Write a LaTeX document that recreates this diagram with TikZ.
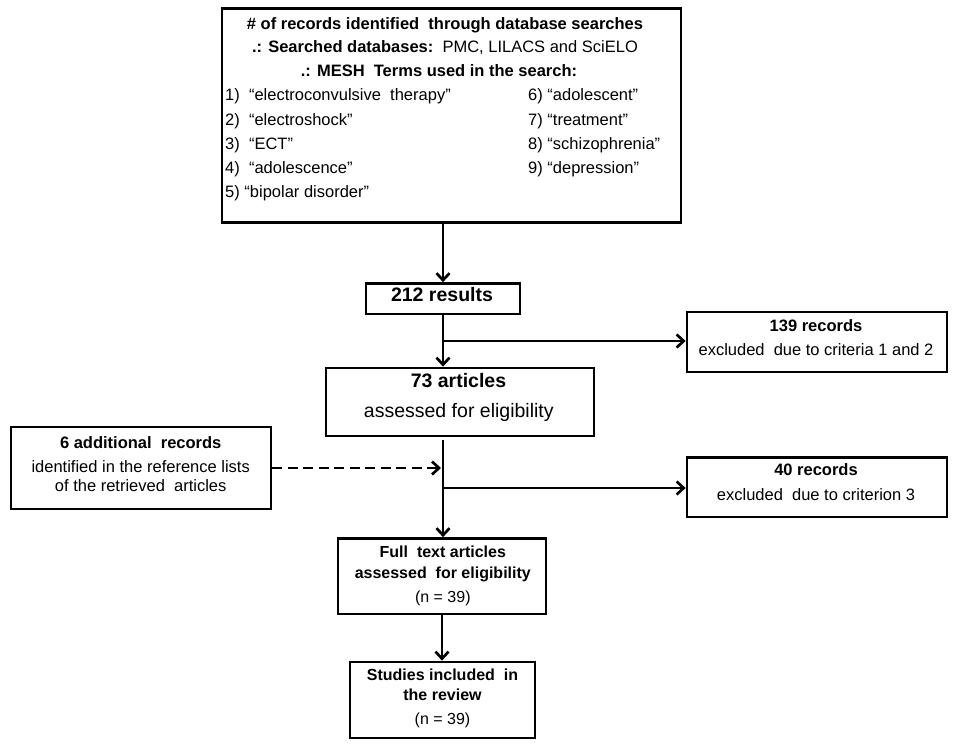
\documentclass[tikz,border=0pt]{standalone}
\usepackage{fontspec}
\setmainfont{Liberation Sans}
\usetikzlibrary{arrows.meta}
\begin{document}
\begin{tikzpicture}[x=1pt,y=-1pt,
  box/.style={draw,line width=2.7pt,inner sep=0pt},
  txt/.style={inner sep=0pt,anchor=mid,font=\fontsize{16.5}{20}\selectfont},
  btxt/.style={txt,font=\fontsize{16.5}{20}\selectfont\bfseries},
  ltxt/.style={txt,anchor=mid west},
  big/.style={txt,font=\fontsize{19.5}{23}\selectfont},
  bbig/.style={txt,font=\fontsize{19.5}{23}\selectfont\bfseries},
  mtxt/.style={txt,font=\fontsize{16}{20}\selectfont},
  bmtxt/.style={txt,font=\fontsize{16}{20}\selectfont\bfseries},
  flow/.style={line width=2.7pt,-{Straight Barb[length=7pt,width=13pt]}},
  dflow/.style={flow,dash pattern=on 10pt off 5.5pt}]
\useasboundingbox (0,0) rectangle (953,748);
\fill[white] (0,0) rectangle (953,748);

% boxes
\node[box,minimum width=459pt,minimum height=214pt] (top) at (451.5,115.5) {};
\node[box,minimum width=154pt,minimum height=30.5pt] (r212) at (443,298.75) {};
\node[box,minimum width=268pt,minimum height=68pt] (a73) at (460,402) {};
\node[box,minimum width=260pt,minimum height=60pt] (r139) at (817,342) {};
\node[box,minimum width=260pt,minimum height=59.5pt] (r40) at (817,487.25) {};
\node[box,minimum width=260pt,minimum height=82pt] (add) at (141,468) {};
\node[box,minimum width=208pt,minimum height=75.5pt] (full) at (442,576.25) {};
\node[box,minimum width=185pt,minimum height=76pt] (stud) at (442.5,700) {};

% top box text
\node[btxt] (h1) at (445,26.7) {\# of records identified\ \ through database searches};
\node[txt] (h2) at (445,50) {\textbf{.: Searched databases:}\ \ PMC, LILACS and SciELO};
\node[btxt] (h3) at (439,74) {.: MESH\ \ Terms used in the search:};
\node[ltxt] (t1) at (225,98.3) {1)\ \ “electroconvulsive\ \ therapy”};
\node[ltxt] (t2) at (225,122.7) {2)\ \ “electroshock”};
\node[ltxt] (t3) at (225,146.7) {3)\ \ “ECT”};
\node[ltxt] (t4) at (225,170.7) {4)\ \ “adolescence”};
\node[ltxt] (t5) at (225,195) {5) “bipolar disorder”};
\node[ltxt] (t6) at (528,98.3) {6) “adolescent”};
\node[ltxt] (t7) at (528,122.7) {7) “treatment”};
\node[ltxt] (t8) at (528,146.7) {8) “schizophrenia”};
\node[ltxt] (t9) at (528,170.7) {9) “depression”};

% middle texts
\node[bbig] (l212) at (442,298.5) {212 results};
\node[bbig] (l73a) at (458.5,385) {73 articles};
\node[big] (l73b) at (458.8,415) {assessed for eligibility};
\node[btxt] (l139a) at (816,329) {139 records};
\node[txt] (l139b) at (816,352.7) {excluded\ \ due to criteria 1 and 2};
\node[btxt] (l40a) at (816,473) {40 records};
\node[txt] (l40b) at (816,497.7) {excluded\ \ due to criterion 3};
\node[btxt] (la1) at (140.7,446) {6 additional\ \ records};
\node[txt] (la2) at (140.7,470) {identified in the reference lists};
\node[txt] (la3) at (140.7,489) {of the retrieved\ \ articles};

% bottom texts
\node[bmtxt] (lf1) at (442.8,555) {Full\ \ text articles};
\node[bmtxt] (lf2) at (442.8,575.7) {assessed\ \ for eligibility};
\node[mtxt] (lf3) at (442.8,600) {(n = 39)};
\node[bmtxt] (ls1) at (442.5,678.3) {Studies included\ \ in};
\node[bmtxt] (ls2) at (442.5,698.3) {the review};
\node[mtxt] (ls3) at (442.5,721.7) {(n = 39)};

% connectors
\coordinate (b1) at (443,341);
\coordinate (j0) at (443,440);
\coordinate (b2) at (443,488);
\draw[flow] (r212.north |- top.south) -- (r212.north);
\draw[flow] (r212.south) -- (r212.south |- a73.north);
\draw[flow] (b1) -- (b1 -| r139.west);
\draw[flow] (j0) -- (j0 |- full.north);
\draw[flow] (b2) -- (b2 -| r40.west);
\draw[dflow] (add.east) -- ([xshift=-2pt]add.east -| j0);
\draw[flow] (full.south) -- (full.south |- stud.north);
\end{tikzpicture}
\end{document}
